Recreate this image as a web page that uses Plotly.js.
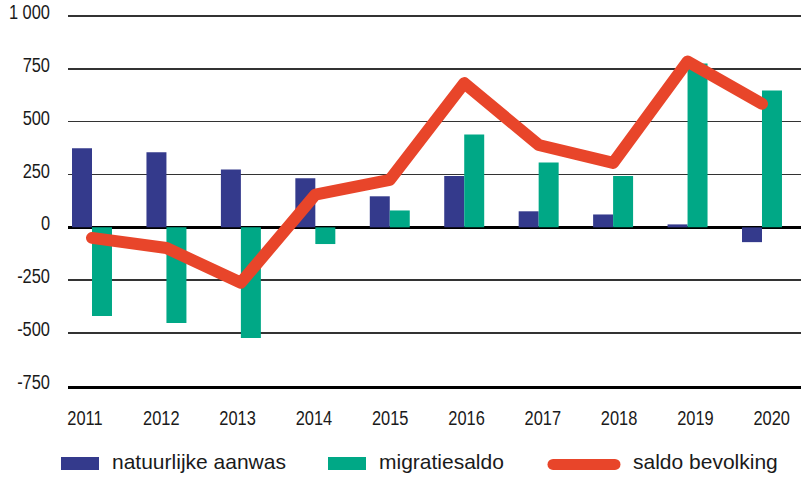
<!DOCTYPE html>
<html>
<head>
<meta charset="utf-8">
<script src="https://cdn.plot.ly/plotly-3.0.1.min.js"></script>
<style>
html, body { margin: 0; padding: 0; background: #fff; }
#chart { width: 801px; height: 478px; }
.scatterlayer .js-line { stroke-linejoin: round !important; stroke-linecap: round !important; }
.shapelayer path { stroke-linecap: round !important; }
</style>
</head>
<body>
<div id="chart"></div>
<script>
const years = ['2011','2012','2013','2014','2015','2016','2017','2018','2019','2020'];
const natuurlijkeAanwas = [375, 355, 274, 232, 147, 243, 76, 61, 14, -70];
const migratiesaldo = [-420, -453, -524, -79, 80, 440, 307, 243, 776, 648];
const saldoBevolking = [-50, -98, -262, 155, 225, 683, 390, 305, 785, 585];
const yTickVals = [-750, -500, -250, 0, 250, 500, 750, 1000];
const yTickText = ['-750', '-500', '-250', '0', '250', '500', '750', '1 000'];
const seriesNames = ['natuurlijke aanwas', 'migratiesaldo', 'saldo bevolking'];
const colors = ['#343A8C', '#00A886', '#E8452A'];

const idx = years.map((_, i) => i);

const traces = [
  { type: 'bar', x: idx, y: natuurlijkeAanwas, name: seriesNames[0],
    marker: { color: colors[0] }, hoverinfo: 'skip' },
  { type: 'bar', x: idx, y: migratiesaldo, name: seriesNames[1],
    marker: { color: colors[1] }, hoverinfo: 'skip' },
  { type: 'scatter', mode: 'lines', x: idx, y: saldoBevolking, name: seriesNames[2],
    line: { color: colors[2], width: 12 }, hoverinfo: 'skip' },
  // carrier for the year tick labels (draws nothing)
  { type: 'scatter', mode: 'lines', x: idx, y: idx.map(() => null), xaxis: 'x2',
    showlegend: false, hoverinfo: 'skip', line: { width: 0 } }
];

const tickFont = { family: '"Liberation Sans", Arial, sans-serif', size: 20, color: '#1a1a1a' };
const legFont = { family: '"Liberation Sans", Arial, sans-serif', size: 21, color: '#1a1a1a' };

// plot area pixel frame: x 68..801, y 16..386
const px = v => (v - 68) / 733;
const py = v => (386 - v) / 372.3;

const shapes = [
  { type: 'rect', xref: 'paper', yref: 'paper', x0: px(61), x1: px(99), y0: py(457), y1: py(470),
    fillcolor: colors[0], line: { width: 0 } },
  { type: 'rect', xref: 'paper', yref: 'paper', x0: px(328), x1: px(366), y0: py(457), y1: py(470),
    fillcolor: colors[1], line: { width: 0 } },
  { type: 'line', xref: 'paper', yref: 'paper', x0: px(553), x1: px(615), y0: py(464.5), y1: py(464.5),
    line: { color: colors[2], width: 11 } }
];

const annotations = [
  { text: seriesNames[0], x: px(110) },
  { text: seriesNames[1], x: px(377) },
  { text: seriesNames[2], x: px(631) }
].map(a => ({ text: a.text, xref: 'paper', yref: 'paper', x: a.x, y: py(462),
  xanchor: 'left', yanchor: 'middle', showarrow: false, font: legFont }));

const layout = {
  width: 801, height: 478,
  margin: { l: 68, r: 0, t: 13.7, b: 92 },
  paper_bgcolor: '#ffffff', plot_bgcolor: '#ffffff',
  showlegend: false,
  barmode: 'group', bargap: 0.463, bargroupgap: 0,
  xaxis: {
    type: 'linear', range: [-0.3224, 9.524],
    showgrid: false, zeroline: false, showticklabels: false,
    showline: true, linecolor: '#000000', linewidth: 3, ticks: ''
  },
  xaxis2: {
    type: 'linear', overlaying: 'x', side: 'bottom', anchor: 'y',
    range: [-0.2228, 9.384],
    tickmode: 'array', tickvals: idx, ticktext: years,
    showgrid: false, zeroline: false, showline: false, ticks: '',
    tickfont: tickFont, ticklabelstandoff: 18
  },
  yaxis: {
    range: [-751, 1010], tickmode: 'array', tickvals: yTickVals, ticktext: yTickText,
    showgrid: true, gridcolor: '#333333', gridwidth: 1.5,
    zeroline: true, zerolinecolor: '#000000', zerolinewidth: 2.5,
    showline: false, ticks: '', tickfont: tickFont, ticklabelstandoff: 17, ticklabelshift: -4
  },
  shapes: shapes,
  annotations: annotations
};

Plotly.newPlot('chart', traces, layout, { staticPlot: true, displayModeBar: false }).then(gd => {
  // reference tick labels use a narrow face: condense the glyphs horizontally
  gd.querySelectorAll('.ytick text, .x2tick text, .xtick text').forEach(t => {
    const w = t.getComputedTextLength();
    if (w > 0) {
      t.setAttribute('textLength', (w * 0.82).toFixed(2));
      t.setAttribute('lengthAdjust', 'spacingAndGlyphs');
    }
  });
});
</script>
</body>
</html>
